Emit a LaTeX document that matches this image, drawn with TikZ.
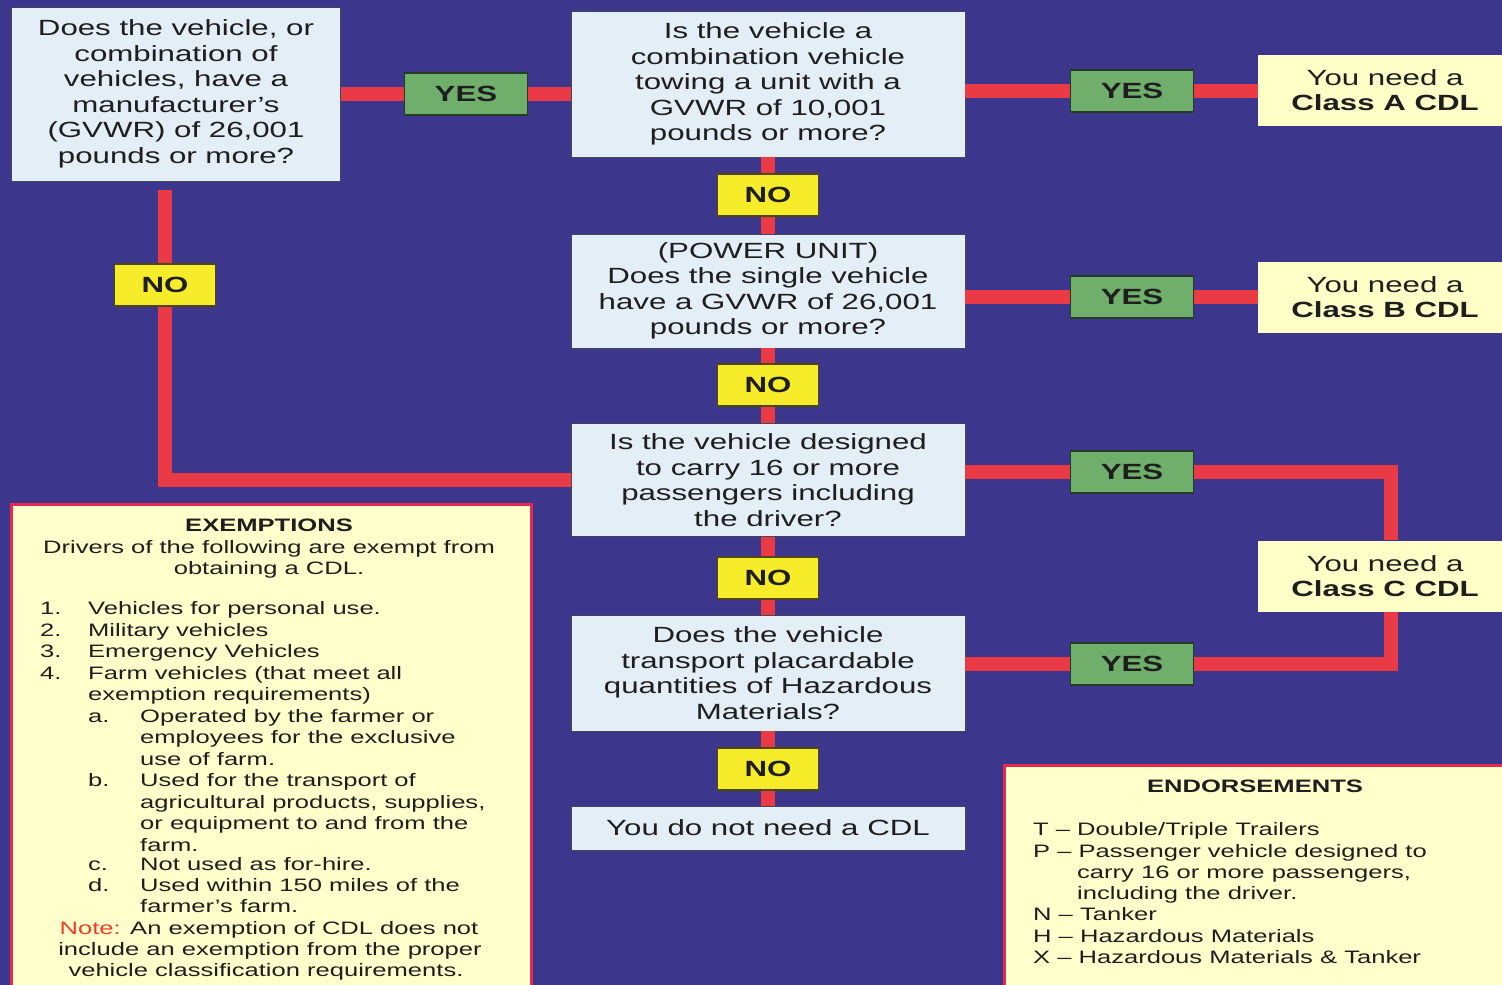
\documentclass[tikz,border=0pt]{standalone}
\usepackage{fontspec}
\setmainfont{Liberation Sans}[FakeStretch=1.42]
\usetikzlibrary{calc}
\definecolor{bgc}{RGB}{60,55,140}
\definecolor{qfill}{RGB}{228,238,246}
\definecolor{qborder}{RGB}{70,70,90}
\definecolor{yesfill}{RGB}{112,174,108}
\definecolor{yesborder}{RGB}{35,60,35}
\definecolor{nofill}{RGB}{247,236,42}
\definecolor{noborder}{RGB}{80,70,20}
\definecolor{resfill}{RGB}{255,255,200}
\definecolor{redline}{RGB}{234,58,70}
\definecolor{panelborder}{RGB}{232,40,80}
\definecolor{panelfill}{RGB}{255,255,204}
\definecolor{txt}{RGB}{30,30,30}
\definecolor{notered}{RGB}{240,60,40}
\newcommand\myqfont{\fontsize{22}{25.5}\selectfont}
\newcommand\mylblfont{\bfseries\fontsize{22}{24}\selectfont}
\newcommand\mypanfont{\fontsize{18}{21.5}\selectfont}
\begin{document}
\begin{tikzpicture}[x=1pt,y=-1pt,
  qbox/.style={draw=qborder, line width=0.8pt, fill=qfill, align=center, inner sep=0pt, text=txt, font=\myqfont, minimum width=394, anchor=center},
  yesbox/.style={draw=yesborder, line width=1.2pt, fill=yesfill, minimum width=123, minimum height=42, inner sep=0pt, text=txt, font=\mylblfont},
  nobox/.style={draw=noborder, line width=1.2pt, fill=nofill, minimum width=101, minimum height=42, inner sep=0pt, text=txt, font=\mylblfont},
  resbox/.style={fill=resfill, align=center, inner sep=0pt, text=txt, font=\myqfont, minimum width=254, minimum height=71},
  panel/.style={draw=panelborder, line width=3pt, fill=panelfill, inner sep=0pt, anchor=north west},
  ptxt/.style={font=\mypanfont, text=txt, inner sep=0pt},
  link/.style={draw=redline, line width=14pt}
]
\useasboundingbox (0,0) rectangle (1502,985);
\fill[bgc] (0,0) rectangle (1502,985);

% question boxes
\node[qbox, minimum width=329, minimum height=174] (q1) at (176,94)
  {Does the vehicle, or\\combination of\\vehicles, have a\\manufacturer's\\(GVWR) of 26,001\\pounds or more?};
\node[qbox, minimum height=146] (q2) at (768,84)
  {Is the vehicle a\\combination vehicle\\towing a unit with a\\GVWR of 10,001\\pounds or more?};
\node[qbox, minimum height=114] (q3) at (768,291)
  {(POWER UNIT)\\Does the single vehicle\\have a GVWR of 26,001\\pounds or more?};
\node[qbox, minimum height=113] (q4) at (768,480)
  {Is the vehicle designed\\to carry 16 or more\\passengers including\\the driver?};
\node[qbox, minimum height=116] (q5) at (768,673)
  {Does the vehicle\\transport placardable\\quantities of Hazardous\\Materials?};
\node[qbox, minimum height=44] (nocdl) at (768,828) {You do not need a CDL};

% results
\node[resbox] (ca) at (1385,90) {You need a\\\textbf{Class A CDL}};
\node[resbox] (cb) at (1385,297) {You need a\\\textbf{Class B CDL}};
\node[resbox] (cc) at (1385,576) {You need a\\\textbf{Class C CDL}};

% yes / no labels
\node[yesbox] (y1) at (466,94) {YES};
\node[yesbox] (y2) at (1132,91) {YES};
\node[yesbox] (y3) at (1132,297) {YES};
\node[yesbox] (y4) at (1132,472) {YES};
\node[yesbox] (y5) at (1132,664) {YES};
\node[nobox] (n0) at (165,285) {NO};
\node[nobox] (n1) at (768,195) {NO};
\node[nobox] (n2) at (768,385) {NO};
\node[nobox] (n3) at (768,578) {NO};
\node[nobox] (n4) at (768,769) {NO};

\coordinate (cx) at (1391,0);

% connectors
\draw[link] (q1.east |- y1.west) -- (y1.west);
\draw[link] (y1.east) -- (y1.east -| q2.west);
\draw[link] (y2.west -| q2.east) -- (y2.west);
\draw[link] (y2.east) -- (y2.east -| ca.west);
\draw[link] (y3.west -| q3.east) -- (y3.west);
\draw[link] (y3.east) -- (y3.east -| cb.west);
\draw[link] (y4.west -| q4.east) -- (y4.west);
\draw[link] (y4.east) -| (cx |- cc.north);
\draw[link] (y5.west -| q5.east) -- (y5.west);
\draw[link] (y5.east) -| (cx |- cc.south);
\draw[link] (q2.south) -- (n1.north);
\draw[link] (n1.south) -- (q3.north);
\draw[link] (q3.south) -- (n2.north);
\draw[link] (n2.south) -- (q4.north);
\draw[link] (q4.south) -- (n3.north);
\draw[link] (n3.south) -- (q5.north);
\draw[link] (q5.south) -- (n4.north);
\draw[link] (n4.south) -- (nocdl.north);
\draw[link, shorten <=9pt] (q1.south -| n0.north) -- (n0.north);
\draw[link] (n0.south) |- (q4.west);

% exemptions panel
\node[panel, minimum width=520, minimum height=490] (exbox) at (10,503) {};
\node[ptxt, anchor=base, font=\mypanfont\bfseries] (exh) at (269,531) {EXEMPTIONS};
\node[ptxt, anchor=base] (exa) at (269,553) {Drivers of the following are exempt from};
\node[ptxt, anchor=base] (exb) at (269,574) {obtaining a CDL.};
\foreach \xx/\yy/\tt [count=\i] in {
  40/614/{1.}, 88/614/{Vehicles for personal use.},
  40/636/{2.}, 88/636/{Military vehicles},
  40/657/{3.}, 88/657/{Emergency Vehicles},
  40/679/{4.}, 88/679/{Farm vehicles (that meet all},
  88/700/{exemption requirements)},
  88/722/{a.}, 140/722/{Operated by the farmer or},
  140/743/{employees for the exclusive},
  140/765/{use of farm.},
  88/786/{b.}, 140/786/{Used for the transport of},
  140/808/{agricultural products, supplies,},
  140/829/{or equipment to and from the},
  140/851/{farm.},
  88/870/{c.}, 140/870/{Not used as for-hire.},
  88/891/{d.}, 140/891/{Used within 150 miles of the},
  140/912/{farmer's farm.}}
  \node[ptxt, anchor=base west] (ex\i) at (\xx,\yy) {\tt};
\node[ptxt, anchor=base] (exn1) at (269,934) {\textcolor{notered}{Note:} An exemption of CDL does not};
\node[ptxt, anchor=base] (exn2) at (270,955) {include an exemption from the proper};
\node[ptxt, anchor=base] (exn3) at (266,976) {vehicle classification requirements.};

% endorsements panel
\node[panel, minimum width=505, minimum height=230] (enbox) at (1003,764) {};
\node[ptxt, anchor=base, font=\mypanfont\bfseries] (enh) at (1255,792) {ENDORSEMENTS};
\foreach \xx/\yy/\tt [count=\i] in {
  1033/835/{T -- Double/Triple Trailers},
  1033/857/{P -- Passenger vehicle designed to},
  1077/878/{carry 16 or more passengers,},
  1077/899/{including the driver.},
  1033/920/{N -- Tanker},
  1033/942/{H -- Hazardous Materials},
  1033/963/{X -- Hazardous Materials \& Tanker}}
  \node[ptxt, anchor=base west] (en\i) at (\xx,\yy) {\tt};
\end{tikzpicture}
\end{document}
